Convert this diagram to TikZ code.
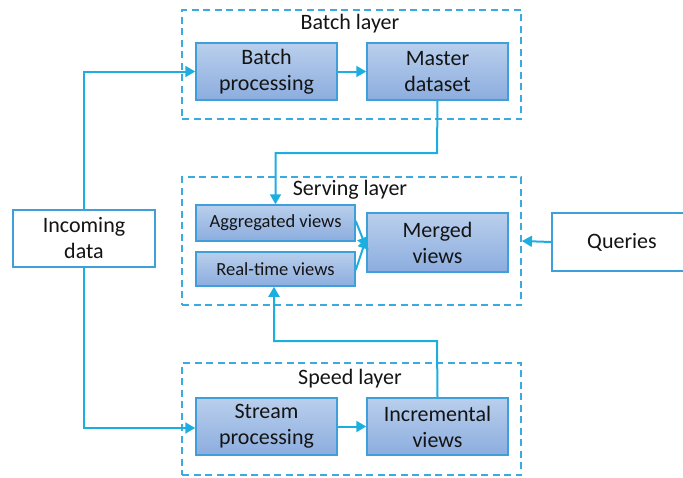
\documentclass[tikz,border=0pt]{standalone}
\usepackage{fontspec}
\setmainfont{Carlito}
\usetikzlibrary{arrows.meta}
\definecolor{linkblue}{HTML}{1DAEE0}
\definecolor{layerblue}{HTML}{3AAAE0}
\definecolor{boxtop}{HTML}{B9CFEC}
\definecolor{boxbot}{HTML}{8CADDF}
\definecolor{boxline}{HTML}{3F9FDA}
\definecolor{ink}{HTML}{141414}
\tikzset{
  layerbox/.style={draw=layerblue, line width=1.8pt, dash pattern=on 7pt off 4.5pt, inner sep=0pt},
  procbox/.style={draw=boxline, line width=1.5pt, top color=boxtop, bottom color=boxbot,
    align=center, inner sep=0pt, text=ink, font=\fontsize{22}{26}\selectfont},
  smallbox/.style={procbox, font=\fontsize{18.5}{20}\selectfont},
  plainbox/.style={draw=boxline, line width=1.5pt, fill=white, align=center, inner sep=0pt,
    text=ink, font=\fontsize{22}{26}\selectfont},
  layerlabel/.style={text=ink, font=\fontsize{22}{24}\selectfont, inner sep=0pt},
  link/.style={draw=linkblue, line width=2pt, -{Triangle[length=10pt,width=11pt]}},
}
\begin{document}
\begin{tikzpicture}[x=1pt, y=-1pt]
  \useasboundingbox (0,0) rectangle (683,477);

  % layer frames
  \node[layerbox, minimum width=339pt, minimum height=109pt] (batchlayer) at (351.5,64.5) {};
  \node[layerbox, minimum width=339pt, minimum height=128pt] (servinglayer) at (351.5,241) {};
  \node[layerbox, minimum width=339pt, minimum height=112pt] (speedlayer) at (351.5,419) {};

  \node[layerlabel] (batchlabel) at (350,24) {Batch layer};
  \node[layerlabel] (servinglabel) at (350,190) {Serving layer};
  \node[layerlabel] (speedlabel) at (350,379) {Speed layer};

  % processing boxes
  \node[procbox, minimum width=141pt, minimum height=57pt] (batchproc) at (266.5,71.5) {Batch\\processing};
  \node[procbox, minimum width=141pt, minimum height=57pt] (master) at (437.5,71.5) {Master\\dataset};
  \node[smallbox, minimum width=159pt, minimum height=36pt] (aggregated) at (275.5,223) {Aggregated views};
  \node[smallbox, minimum width=159pt, minimum height=34pt] (realtime) at (275.5,269) {Real-time views};
  \node[procbox, minimum width=141pt, minimum height=59pt] (merged) at (437.5,242.5) {Merged\\views};
  \node[procbox, minimum width=141pt, minimum height=57pt] (stream) at (266.5,426.5) {Stream\\processing};
  \node[procbox, minimum width=141pt, minimum height=57pt] (incremental) at (437.5,426.5) {Incremental\\views};

  % inputs
  \node[plainbox, minimum width=142pt, minimum height=57pt] (incoming) at (84,238.5) {Incoming\\data};
  \node[plainbox, minimum width=140pt, minimum height=58pt] (queries) at (622,242) {Queries};

  % connectors
  \draw[link] (incoming.north) |- (batchproc.west);
  \draw[link] (incoming.south) |- ([yshift=-1.5pt]stream.west);
  \draw[link] (batchproc.east) -- (master.west);
  \draw[link] (stream.east) -- (incremental.west);
  \coordinate (mastdrop) at (437,153);
  \coordinate (incrise) at (437,341);
  \draw[link] (master.south) -- (mastdrop) -| (aggregated.north);
  \draw[link] (incremental.north) -- (incrise) -| ([xshift=-1.5pt]realtime.south);
  \draw[link] ([yshift=2pt]aggregated.east) -- ([yshift=-5pt]merged.west);
  \draw[link] ([yshift=-1pt]realtime.east) -- ([yshift=4pt]merged.west);
  \draw[link] (queries.west) -- (servinglayer.east);
\end{tikzpicture}
\end{document}
